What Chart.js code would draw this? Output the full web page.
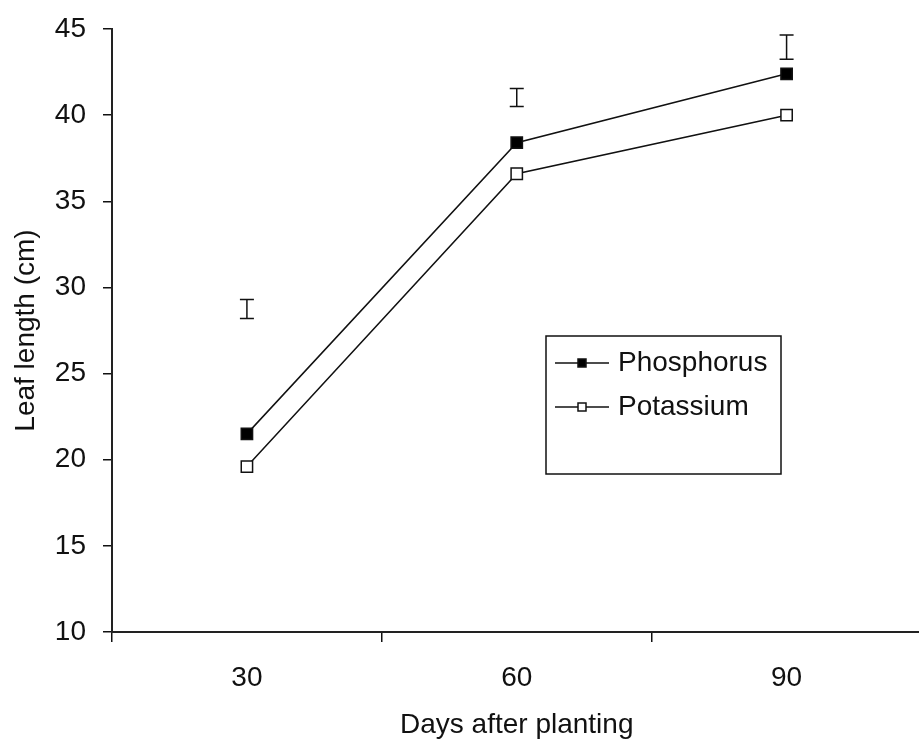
<!DOCTYPE html>
<html>
<head>
<meta charset="utf-8">
<script src="https://cdn.jsdelivr.net/npm/chart.js@4"></script>
<style>
  html, body { margin: 0; padding: 0; background: #fff; overflow: hidden; }
  #wrap { width: 931px; height: 742px; }
</style>
</head>
<body>
<div id="wrap"><canvas id="leafChart" width="931" height="742"></canvas></div>
<script>
// data
const days = ['30', '60', '90'];
const phosphorus = [21.5, 38.4, 42.4];
const potassium = [19.6, 36.6, 40.0];
// LSD bars (low / high ends)
const lsdLow = [28.2, 40.5, 43.25];
const lsdHigh = [29.3, 41.55, 44.65];
const yTicks = [10, 15, 20, 25, 30, 35, 40, 45];

const FONT = 'Arial, "Liberation Sans", sans-serif';

// floating LSD bars
const lsdBars = {
    id: 'lsdBars',
    afterDatasetsDraw(chart) {
        const ctx = chart.ctx;
        const x = chart.scales.x, y = chart.scales.y;
        ctx.save();
        ctx.strokeStyle = '#111';
        ctx.lineWidth = 1.5;
        days.forEach((d, i) => {
            const px = x.getPixelForValue(i);
            const y1 = y.getPixelForValue(lsdLow[i]);
            const y2 = y.getPixelForValue(lsdHigh[i]);
            ctx.beginPath();
            ctx.moveTo(px, y1); ctx.lineTo(px, y2);
            ctx.moveTo(px - 7, y1); ctx.lineTo(px + 7, y1);
            ctx.moveTo(px - 7, y2); ctx.lineTo(px + 7, y2);
            ctx.stroke();
        });
        ctx.restore();
    }
};

// boxed legend inside the plot
const boxLegend = {
    id: 'boxLegend',
    afterDraw(chart) {
        const ctx = chart.ctx;
        ctx.save();
        ctx.strokeStyle = '#111';
        ctx.lineWidth = 1.5;
        ctx.strokeRect(546, 336, 235, 138);
        chart.data.datasets.forEach((ds, i) => {
            const ly = 363 + i * 44;
            ctx.beginPath();
            ctx.moveTo(555, ly); ctx.lineTo(609, ly);
            ctx.stroke();
            ctx.fillStyle = ds.pointBackgroundColor;
            ctx.fillRect(578, ly - 4, 8, 8);
            ctx.strokeRect(578, ly - 4, 8, 8);
            ctx.fillStyle = '#111';
            ctx.font = '28px ' + FONT;
            ctx.textBaseline = 'middle';
            ctx.textAlign = 'left';
            ctx.fillText(ds.label, 618, ly);
        });
        ctx.restore();
    }
};

new Chart(document.getElementById('leafChart'), {
    type: 'line',
    data: {
        labels: days,
        datasets: [{
            label: 'Phosphorus',
            data: phosphorus,
            borderColor: '#111',
            borderWidth: 1.5,
            pointStyle: 'rect',
            pointRadius: 8,
            pointBorderWidth: 1.5,
            pointBackgroundColor: '#000',
            pointBorderColor: '#111',
            tension: 0
        }, {
            label: 'Potassium',
            data: potassium,
            borderColor: '#111',
            borderWidth: 1.5,
            pointStyle: 'rect',
            pointRadius: 8,
            pointBorderWidth: 1.5,
            pointBackgroundColor: '#fff',
            pointBorderColor: '#111',
            tension: 0
        }]
    },
    options: {
        responsive: false,
        animation: false,
        layout: { padding: { top: 29, right: 0, bottom: 0, left: 0 } },
        plugins: {
            legend: { display: false },
            tooltip: { enabled: false }
        },
        scales: {
            x: {
                offset: true,
                grid: { offset: true, drawOnChartArea: false, drawTicks: true, tickLength: 10, color: '#111', lineWidth: 1.5 },
                border: { color: '#222', width: 2 },
                ticks: { color: '#111', font: { size: 28, family: FONT }, padding: 19, maxRotation: 0 },
                title: { display: true, text: 'Days after planting', color: '#111', font: { size: 28, family: FONT }, padding: 0 },
                afterFit(scale) { scale.height = 110; scale.paddingLeft = 0; scale.paddingRight = 0; }
            },
            y: {
                min: 10,
                max: 45,
                afterBuildTicks(scale) { scale.ticks = yTicks.map(v => ({ value: v })); },
                grid: { drawOnChartArea: false, drawTicks: true, tickLength: 9, color: '#111', lineWidth: 1.5 },
                border: { color: '#222', width: 2 },
                ticks: { color: '#111', font: { size: 28, family: FONT }, padding: 17 },
                title: { display: true, text: 'Leaf length (cm)', color: '#111', font: { size: 28, family: FONT }, padding: { top: 9, bottom: 0 } },
                afterFit(scale) { scale.width = 112; scale.paddingTop = 0; scale.paddingBottom = 0; }
            }
        }
    },
    plugins: [lsdBars, boxLegend]
});
</script>
</body>
</html>
